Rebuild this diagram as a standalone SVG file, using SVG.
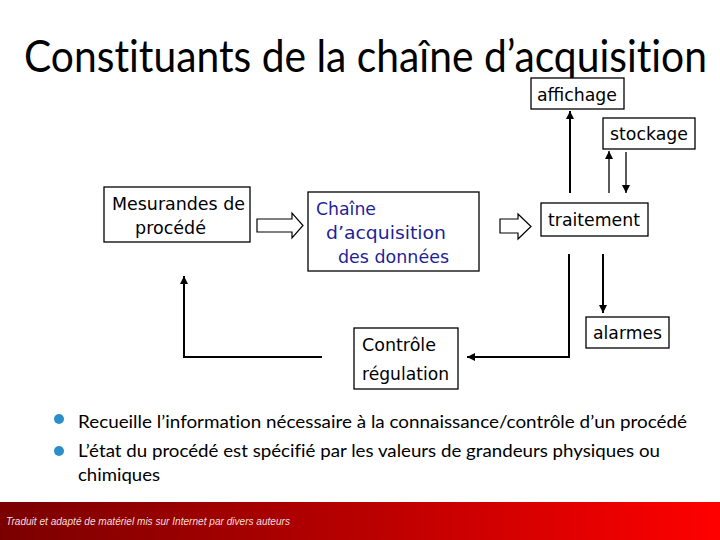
<svg xmlns="http://www.w3.org/2000/svg" width="720" height="540" viewBox="0 0 720 540">
<defs>
<style>
.box{fill:#fff;stroke:#000;stroke-width:1.3}
.lbl{font-family:"DejaVu Sans",Verdana,sans-serif;font-size:17.5px;fill:#000}
.blue{fill:#1f1f99}
.ln{fill:none;stroke:#000;stroke-width:2}
.thin{fill:none;stroke:#000;stroke-width:1.3}
.hollow{fill:#fff;stroke:#000;stroke-width:1.2;stroke-linejoin:miter}
.bt{font-family:Lato,"Open Sans",sans-serif;font-size:18px;fill:#000;font-variant-ligatures:none}
.title{font-family:Lato,"Open Sans",sans-serif;font-size:44px;fill:#000;font-variant-ligatures:none}
</style>
<marker id="ah" viewBox="0 0 10 10" refX="10" refY="5" markerWidth="8" markerHeight="8" markerUnits="userSpaceOnUse" orient="auto">
<path d="M0,0 L10,5 L0,10 z" fill="#000"/>
</marker>
<linearGradient id="foot" x1="0" y1="0" x2="1" y2="0">
<stop offset="0" stop-color="#7a0000"/>
<stop offset="0.5" stop-color="#b80000"/>
<stop offset="1" stop-color="#ff0000"/>
</linearGradient>
</defs>
<rect width="720" height="540" fill="#fff"/>
<text class="title" x="24" y="72" textLength="683" lengthAdjust="spacingAndGlyphs">Constituants de la chaîne d’acquisition</text>

<g id="connectors">
<path class="hollow" d="M257,219 L292,219 L292,213 L303,225.5 L292,238 L292,232 L257,232 Z"/>
<path class="hollow" d="M500,219 L518,219 L518,214 L531,226.5 L518,239 L518,233 L500,233 Z"/>
<line class="ln" x1="570" y1="193" x2="570" y2="111" marker-end="url(#ah)"/>
<line class="thin" x1="609" y1="193" x2="609" y2="151" marker-end="url(#ah)"/>
<line class="thin" x1="626" y1="152" x2="626" y2="193" marker-end="url(#ah)"/>
<line class="ln" x1="603" y1="254" x2="603" y2="313" marker-end="url(#ah)"/>
<polyline class="ln" points="569,254 569,357 467,357" marker-end="url(#ah)"/>
<polyline class="ln" points="322,357 184,357 184,276" marker-end="url(#ah)"/>
</g>

<g id="mesurandes">
<rect class="box" x="104" y="187" width="146" height="55"/>
<text class="lbl" x="112" y="210" textLength="133" lengthAdjust="spacingAndGlyphs">Mesurandes de</text>
<text class="lbl" x="135" y="234" textLength="71" lengthAdjust="spacingAndGlyphs">procédé</text>
</g>
<g id="chaine">
<rect class="box" x="308" y="192" width="171" height="79"/>
<text class="lbl blue" x="316" y="215" textLength="60" lengthAdjust="spacingAndGlyphs">Chaîne</text>
<text class="lbl blue" x="326" y="239" textLength="120" lengthAdjust="spacingAndGlyphs">d’acquisition</text>
<text class="lbl blue" x="338" y="263" textLength="111" lengthAdjust="spacingAndGlyphs">des données</text>
</g>
<g id="traitement">
<rect class="box" x="541" y="203" width="107" height="33"/>
<text class="lbl" x="548" y="226" textLength="92" lengthAdjust="spacingAndGlyphs">traitement</text>
</g>
<g id="affichage">
<rect class="box" x="531" y="78" width="93" height="31"/>
<text class="lbl" x="537" y="101" textLength="80" lengthAdjust="spacingAndGlyphs">affichage</text>
</g>
<g id="stockage">
<rect class="box" x="603" y="118" width="92" height="31"/>
<text class="lbl" x="610" y="140" textLength="78" lengthAdjust="spacingAndGlyphs">stockage</text>
</g>
<g id="alarmes">
<rect class="box" x="586" y="317" width="83" height="31"/>
<text class="lbl" x="593" y="339" textLength="69" lengthAdjust="spacingAndGlyphs">alarmes</text>
</g>
<g id="controle">
<rect class="box" x="354" y="328" width="104" height="61"/>
<text class="lbl" x="362" y="351" textLength="74" lengthAdjust="spacingAndGlyphs">Contrôle</text>
<text class="lbl" x="362" y="380" textLength="87" lengthAdjust="spacingAndGlyphs">régulation</text>
</g>

<g id="bullets">
<circle cx="59" cy="419" r="5" fill="#2a8fc8"/>
<circle cx="59" cy="451" r="5" fill="#2a8fc8"/>
<text class="bt" x="78" y="428" textLength="609" lengthAdjust="spacingAndGlyphs">Recueille l’information nécessaire à la connaissance/contrôle d’un procédé</text>
<text class="bt" x="78" y="457" textLength="582" lengthAdjust="spacingAndGlyphs">L’état du procédé est spécifié par les valeurs de grandeurs physiques ou</text>
<text class="bt" x="78" y="481" textLength="82" lengthAdjust="spacingAndGlyphs">chimiques</text>
</g>

<g id="footer">
<rect x="0" y="502" width="720" height="38" fill="url(#foot)"/>
<text x="6" y="525" font-family="'Liberation Sans',Arial,sans-serif" font-style="italic" font-size="10" fill="#f2dede" textLength="284" lengthAdjust="spacingAndGlyphs">Traduit et adapté de matériel mis sur Internet par divers auteurs</text>
</g>
</svg>
